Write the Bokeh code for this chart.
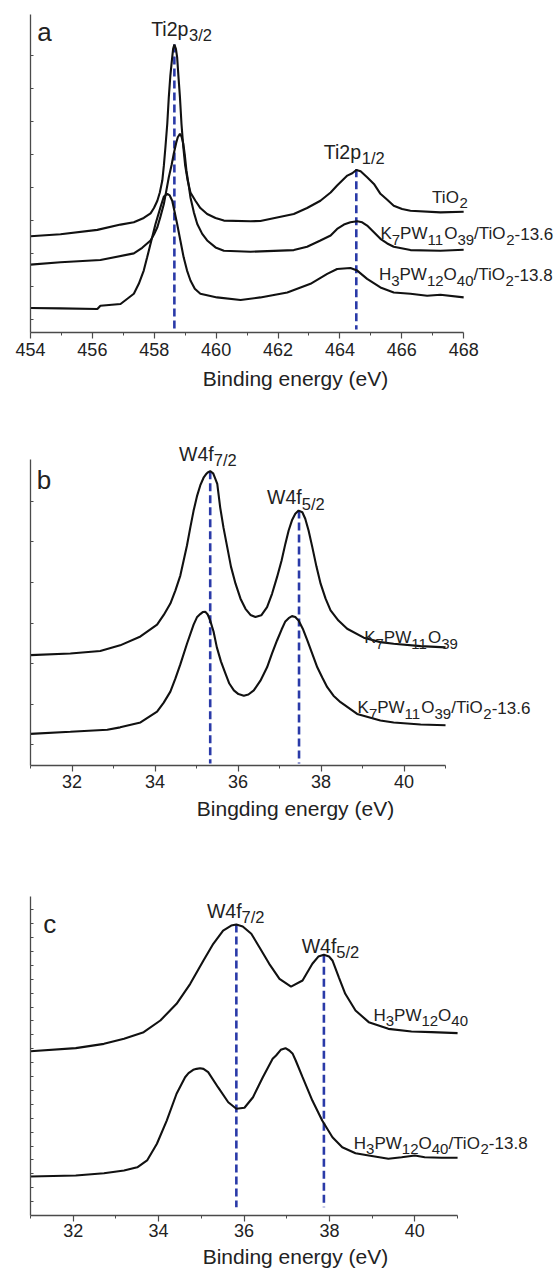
import re
from bokeh.plotting import figure
from bokeh.layouts import column
from bokeh.models import Label, FixedTicker, Range1d
from bokeh.embed import file_html
from bokeh.resources import INLINE

FONT = "Liberation Sans"
INK = "#111111"
DASH = "#2a3aa8"

# ---------------- Panel a : Ti 2p ----------------
a_ev_tio2 = [454.00, 454.97, 456.16, 456.91, 457.34, 457.66, 457.88, 457.99, 458.10, 458.18,
             458.26, 458.31, 458.36, 458.42, 458.47, 458.52, 458.58, 458.61, 458.65, 458.70,
             458.74, 458.78, 458.83, 458.88, 458.94, 459.00, 459.08, 459.17, 459.33, 459.49,
             459.71, 459.98, 460.25, 461.11, 461.43, 462.51, 462.94, 463.37, 463.70, 463.91,
             464.24, 464.40, 464.53, 464.67, 464.88, 465.10, 465.31, 465.53, 465.74, 466.01,
             466.28, 467.25, 468.00]
a_int_tio2 = [2.53, 2.59, 2.72, 2.88, 2.95, 3.08, 3.22, 3.38, 3.60, 3.85,
              4.21, 4.66, 5.21, 5.92, 6.73, 7.38, 7.93, 8.19, 8.32, 8.19,
              7.93, 7.38, 6.73, 5.92, 5.21, 4.66, 4.21, 3.85, 3.60, 3.38,
              3.20, 3.08, 3.00, 2.98, 2.99, 3.20, 3.38, 3.60, 3.85, 4.06,
              4.36, 4.43, 4.53, 4.49, 4.31, 4.11, 3.81, 3.63, 3.45, 3.35,
              3.30, 3.25, 3.27]
a_ev_k7 = [454.00, 454.97, 456.26, 457.34, 457.61, 457.88, 457.99, 458.10, 458.20, 458.31,
           458.47, 458.56, 458.63, 458.71, 458.76, 458.83, 458.88, 458.94, 458.99, 459.04,
           459.11, 459.17, 459.28, 459.39, 459.55, 459.71, 459.98, 460.25, 461.11, 462.51,
           462.94, 463.37, 463.70, 463.91, 464.13, 464.34, 464.56, 464.72, 464.88, 465.10,
           465.31, 465.53, 465.74, 466.28, 467.25, 468.00]
a_int_k7 = [1.67, 1.74, 1.81, 2.01, 2.18, 2.40, 2.58, 2.80, 3.12, 3.50,
            4.31, 4.68, 5.02, 5.35, 5.52, 5.62, 5.54, 5.32, 4.96, 4.51,
            4.09, 3.70, 3.25, 2.90, 2.60, 2.40, 2.19, 2.09, 2.06, 2.11,
            2.21, 2.40, 2.55, 2.75, 2.88, 2.95, 2.98, 2.95, 2.85, 2.65,
            2.45, 2.31, 2.21, 2.11, 2.09, 2.12]
a_ev_h3 = [454.00, 454.97, 456.16, 456.26, 456.91, 457.34, 457.50, 457.66, 457.77, 457.88,
           458.04, 458.20, 458.31, 458.42, 458.50, 458.58, 458.65, 458.74, 458.85, 458.95,
           459.06, 459.17, 459.31, 459.49, 460.03, 460.79, 461.43, 462.30, 463.05, 463.59,
           463.91, 464.34, 464.56, 464.88, 465.31, 465.74, 466.28, 466.82, 467.25, 468.00]
a_int_h3 = [0.36, 0.35, 0.33, 0.43, 0.48, 0.79, 1.09, 1.49, 1.89, 2.30,
            2.90, 3.40, 3.73, 3.81, 3.76, 3.60, 3.30, 2.90, 2.37, 1.89,
            1.49, 1.19, 0.94, 0.79, 0.68, 0.60, 0.68, 0.83, 1.09, 1.39,
            1.54, 1.57, 1.49, 1.24, 0.98, 0.83, 0.79, 0.73, 0.76, 0.68]
a_peak_ev = [458.65, 464.53]
a_peak_top = [8.32, 4.55]
a_xticks = [454, 456, 458, 460, 462, 464, 466, 468]
a_xminor = [455, 457, 459, 461, 463, 465, 467]
a_yticks = [0, 1, 2, 3, 4, 5, 6, 7, 8]

# ---------------- Panel b : W 4f of K7PW11O39 ----------------
b_ev_k7 = [31.00, 31.96, 32.68, 33.16, 33.65, 34.05, 34.21, 34.37, 34.49, 34.61,
           34.69, 34.77, 34.85, 34.93, 35.01, 35.09, 35.17, 35.24, 35.27, 35.33,
           35.40, 35.44, 35.50, 35.57, 35.65, 35.74, 35.83, 35.94, 36.06, 36.18,
           36.30, 36.42, 36.56, 36.70, 36.82, 36.94, 37.05, 37.14, 37.22, 37.30,
           37.38, 37.46, 37.55, 37.62, 37.70, 37.79, 37.89, 37.99, 38.11, 38.23,
           38.42, 38.63, 39.03, 39.43, 39.75, 40.40, 41.00]
b_int_k7 = [2.21, 2.25, 2.31, 2.45, 2.67, 2.96, 3.20, 3.48, 3.80, 4.17,
            4.54, 4.91, 5.35, 5.77, 6.12, 6.39, 6.58, 6.68, 6.71, 6.74,
            6.69, 6.59, 6.43, 5.85, 5.35, 4.87, 4.39, 3.97, 3.60, 3.35,
            3.20, 3.15, 3.19, 3.39, 3.72, 4.13, 4.54, 4.95, 5.28, 5.53,
            5.69, 5.77, 5.73, 5.57, 5.28, 4.87, 4.39, 3.97, 3.60, 3.31,
            3.06, 2.86, 2.64, 2.53, 2.49, 2.43, 2.40]
b_ev_k7ti = [31.00, 31.96, 32.85, 33.16, 33.65, 34.05, 34.21, 34.37, 34.49, 34.61,
             34.77, 34.93, 35.01, 35.09, 35.15, 35.21, 35.27, 35.33, 35.41, 35.49,
             35.59, 35.70, 35.79, 35.90, 36.01, 36.14, 36.25, 36.38, 36.54, 36.70,
             36.82, 36.94, 37.05, 37.14, 37.22, 37.30, 37.38, 37.46, 37.56, 37.67,
             37.79, 37.91, 38.03, 38.15, 38.30, 38.47, 38.87, 39.43, 39.75, 40.40,
             41.00]
b_int_k7ti = [0.27, 0.32, 0.37, 0.43, 0.55, 0.82, 1.04, 1.31, 1.63, 1.98,
              2.49, 2.96, 3.14, 3.22, 3.27, 3.28, 3.21, 3.06, 2.79, 2.40,
              2.05, 1.75, 1.51, 1.34, 1.25, 1.21, 1.24, 1.34, 1.58, 1.91,
              2.25, 2.57, 2.84, 3.04, 3.12, 3.17, 3.15, 3.06, 2.86, 2.57,
              2.24, 1.91, 1.66, 1.42, 1.21, 1.05, 0.76, 0.60, 0.55, 0.50,
              0.48]
b_peak_ev = [35.33, 37.47]
b_peak_top = [6.74, 5.77]
b_xticks = [32, 34, 36, 38, 40]
b_xminor = [31, 33, 35, 37, 39, 41]
b_yticks = [0, 1, 2, 3, 4, 5, 6]

# ---------------- Panel c : W 4f of H3PW12O40 ----------------
c_ev_h3 = [31.00, 32.06, 32.72, 33.19, 33.65, 34.04, 34.42, 34.74, 35.05, 35.28,
           35.51, 35.70, 35.82, 35.97, 36.17, 36.36, 36.59, 36.83, 37.10, 37.37,
           37.60, 37.74, 37.87, 37.99, 38.07, 38.22, 38.37, 38.61, 38.92, 39.38,
           39.92, 40.39, 41.00]
c_int_h3 = [11.82, 12.04, 12.35, 12.71, 13.19, 14.03, 15.23, 16.67, 18.35, 19.55,
            20.50, 20.86, 20.94, 20.79, 20.27, 19.30, 18.11, 17.03, 16.47, 16.91,
            18.11, 18.63, 18.76, 18.63, 18.35, 17.14, 15.95, 14.75, 13.91, 13.43,
            13.24, 13.19, 13.12]
c_ev_h3ti = [31.00, 32.06, 32.72, 33.19, 33.50, 33.73, 33.96, 34.19, 34.42, 34.62,
             34.70, 34.81, 34.89, 34.97, 35.05, 35.16, 35.39, 35.63, 35.82, 36.01,
             36.21, 36.44, 36.67, 36.75, 36.86, 36.97, 37.06, 37.14, 37.21, 37.37,
             37.60, 37.83, 38.07, 38.30, 38.61, 38.92, 39.38, 39.69, 40.00, 40.23,
             40.62, 41.00]
c_int_h3ti = [2.81, 2.88, 3.04, 3.24, 3.47, 3.96, 5.16, 6.83, 8.76, 9.95,
              10.24, 10.48, 10.55, 10.60, 10.55, 10.31, 9.23, 8.15, 7.68, 7.75,
              8.51, 9.95, 11.27, 11.51, 11.92, 12.04, 11.87, 11.63, 11.15, 9.95,
              8.27, 6.83, 5.63, 4.91, 4.48, 4.32, 4.08, 4.19, 4.32, 4.19,
              4.15, 4.15]
c_peak_ev = [35.82, 37.87]
c_peak_top = [20.94, 18.76]
c_xticks = [32, 34, 36, 38, 40]
c_xminor = [31, 33, 35, 37, 39, 41]
c_yticks = list(range(1, 23))

# ---------------- text ----------------
a_labels = [("Ti2p_{3/2}", 457.90, 8.79, "peak"), ("Ti2p_{1/2}", 463.48, 5.08, "peak"),
            ("TiO_{2}", 466.98, 3.70, "name"),
            ("K_{7}PW_{11}O_{39}/TiO_{2}-13.6", 465.31, 2.60, "name"),
            ("H_{3}PW_{12}O_{40}/TiO_{2}-13.8", 465.26, 1.37, "name")]
b_labels = [("W4f_{7/2}", 34.58, 7.17, "peak"), ("W4f_{5/2}", 36.70, 6.10, "peak"),
            ("K_{7}PW_{11}O_{39}", 39.04, 2.64, "name"),
            ("K_{7}PW_{11}O_{39}/TiO_{2}-13.6", 38.88, 0.91, "name")]
c_labels = [("W4f_{7/2}", 35.13, 21.91, "peak"), ("W4f_{5/2}", 37.35, 19.42, "peak"),
            ("H_{3}PW_{12}O_{40}", 39.03, 14.39, "name"),
            ("H_{3}PW_{12}O_{40}/TiO_{2}-13.8", 38.57, 5.20, "name")]
panel_letters = [("a", 454.22, 8.71), ("b", 31.15, 6.53), ("c", 31.30, 20.94)]
x_titles = ["Binding energy (eV)", "Bingding energy (eV)", "Binding energy (eV)"]

# Arial / Liberation Sans advance widths (1/1000 em)
ADV = {'T': 611, 'i': 222, 'O': 778, 'K': 667, 'P': 667, 'W': 944, 'H': 722, '/': 278,
       '-': 333, '.': 278, 'p': 556, 'f': 278, ' ': 278}
for _d in "0123456789":
    ADV[_d] = 556

STYLE = {"peak": (19.5, 16.5, 6.5), "name": (17, 15, 6)}


def rich_label(p, txt, x, y, kind):
    size, sub_size, dy = STYLE[kind]
    parts = re.split(r"(_\{[^}]*\})", txt)
    off = 0.0
    for part in parts:
        if not part:
            continue
        sub = part.startswith("_{")
        s = part[2:-1] if sub else part
        fs = sub_size if sub else size
        p.add_layout(Label(x=x, y=y, x_offset=off, y_offset=-dy if sub else 0, text=s,
                           text_font=FONT, text_font_size=f"{fs}px", text_color="#222222",
                           text_baseline="alphabetic", text_align="left"))
        off += sum(ADV.get(ch, 556) for ch in s) * fs / 1000.0


def make_fig(h, left, bottom, xr, xb, yr, yb, xticks, xminor, yticks, title,
             tick_standoff, title_standoff):
    p = figure(width=560, height=h, x_range=Range1d(*xr), y_range=Range1d(*yr),
               output_backend="svg", toolbar_location=None,
               min_border_left=left, min_border_right=0,
               min_border_top=0, min_border_bottom=bottom)
    p.outline_line_color = None
    p.grid.visible = False
    p.background_fill_color = "white"
    p.border_fill_color = "white"
    xa = p.xaxis[0]
    xa.bounds = xb
    xa.ticker = FixedTicker(ticks=xticks, minor_ticks=xminor)
    xa.axis_label = title
    xa.axis_label_text_font = FONT
    xa.axis_label_text_font_style = "normal"
    xa.axis_label_text_font_size = "21px"
    xa.axis_label_text_color = "#222222"
    xa.axis_label_standoff = title_standoff
    xa.major_label_text_font = FONT
    xa.major_label_text_font_size = "18px"
    xa.major_label_text_color = "#222222"
    xa.major_label_standoff = tick_standoff
    xa.major_tick_out = 6
    xa.major_tick_in = 0
    xa.minor_tick_out = 3
    xa.minor_tick_in = 0
    ya = p.yaxis[0]
    ya.bounds = yb
    ya.ticker = FixedTicker(ticks=yticks)
    ya.major_label_overrides = {t: "" for t in yticks}
    ya.major_label_standoff = 0
    ya.major_tick_in = 3
    ya.major_tick_out = 0
    ya.minor_tick_in = 0
    ya.minor_tick_out = 0
    for ax in (xa, ya):
        ax.axis_line_color = "#4a4a4a"
        ax.axis_line_width = 1.3
        ax.major_tick_line_color = "#4a4a4a"
        ax.minor_tick_line_color = "#4a4a4a"
        ax.major_tick_line_width = 1.2
        ax.minor_tick_line_width = 1.0
    return p


def add_dashes(p, evs, tops, bottom):
    p.segment(x0=evs, y0=tops, x1=evs, y1=[bottom] * len(evs),
              line_color=DASH, line_width=2.6, line_dash="8 4")


# panel a
pa = make_fig(420, 30, 88, (454, 471.13), (454, 468), (-0.38, 9.65), (-0.38, 9.22),
              a_xticks, a_xminor, a_yticks, x_titles[0], 4, 8)
add_dashes(pa, a_peak_ev, a_peak_top, -0.29)
for xs, ys in [(a_ev_tio2, a_int_tio2), (a_ev_k7, a_int_k7), (a_ev_h3, a_int_h3)]:
    pa.line(xs, ys, line_color=INK, line_width=2.1)
for t, x, y, k in a_labels:
    rich_label(pa, t, x, y, k)

# panel b
pb = make_fig(425, 30, 80, (31, 43.77), (31, 41), (-0.51, 7.99), (-0.51, 7.03),
              b_xticks, b_xminor, b_yticks, x_titles[1], 3, 6)
add_dashes(pb, b_peak_ev, b_peak_top, -0.46)
for xs, ys in [(b_ev_k7, b_int_k7), (b_ev_k7ti, b_int_k7ti)]:
    pb.line(xs, ys, line_color=INK, line_width=2.1)
for t, x, y, k in b_labels:
    rich_label(pb, t, x, y, k)

# panel c
pc = make_fig(428, 26, 58, (31, 43.41), (31, 41), (0, 26.62), (0, 22.95),
              c_xticks, c_xminor, c_yticks, x_titles[2], 2, 5)
add_dashes(pc, c_peak_ev, c_peak_top, 0.6)
for xs, ys in [(c_ev_h3, c_int_h3), (c_ev_h3ti, c_int_h3ti)]:
    pc.line(xs, ys, line_color=INK, line_width=2.1)
for t, x, y, k in c_labels:
    rich_label(pc, t, x, y, k)

for p, (letter, x, y) in zip((pa, pb, pc), panel_letters):
    p.add_layout(Label(x=x, y=y, text=letter, text_font=FONT, text_font_size="26px",
                       text_color="#222222", text_baseline="alphabetic", text_align="left"))

layout = column(pa, pb, pc, spacing=0)
open("out.html", "w").write(file_html(layout, INLINE))
